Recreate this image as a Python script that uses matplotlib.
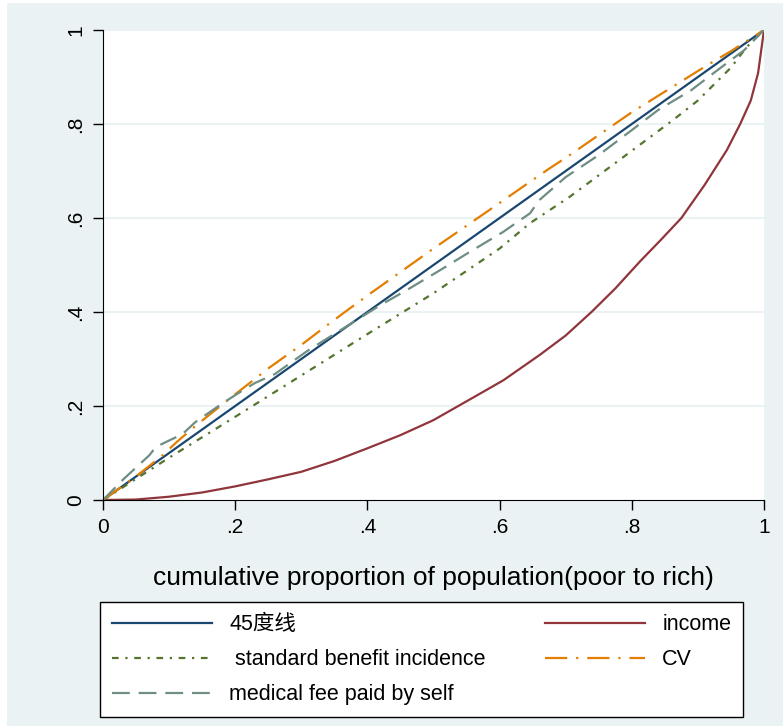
import matplotlib
matplotlib.use("Agg")
from matplotlib import pyplot as plt
from matplotlib.patches import Rectangle

plt.rcParams['font.family'] = ['Liberation Sans', 'Noto Sans CJK SC', 'DejaVu Sans']

# Lorenz / concentration curves
diag_x = [0, 1]
diag_y = [0, 1]

income_x = [0, .05, .1, .15, .2, .25, .3, .35, .4, .45, .5, .54, .575, .606, .661, .7, .739,
            .775, .812, .845, .875, .91, .944, .964, .98, .991, 1]
income_y = [0, .001, .007, .016, .029, .044, .060, .083, .110, .138, .170, .202, .230, .255, .309,
            .35, .40, .45, .507, .555, .60, .67, .745, .80, .85, .908, 1]

sbi_x = [0, .1, .2, .3, .4, .5, .6, .646, .706, .8, .862, .9, .95, .974, 1]
sbi_y = [0, .09, .177, .265, .353, .44, .535, .589, .645, .743, .808, .85, .92, .964, 1]

cv_x = [0, .05, .09, .112, .142, .2, .222, .25, .3, .343, .366, .4, .5, .6, .646, .676, .7, .8, .914, .95, 1]
cv_y = [0, .05, .095, .124, .16, .225, .249, .28, .33, .376, .40, .435, .535, .632, .677, .706, .728, .825, .925, .955, 1]

fee_x = [0, .03, .07, .08, .12, .14, .18, .21, .23, .26, .31, .36, .42, .46, .51, .555, .605, .646, .66,
         .70, .75, .80, .84, .89, .93, .97, 1]
fee_y = [0, .043, .095, .113, .14, .166, .205, .232, .249, .268, .318, .362, .415, .447, .489, .528, .570,
         .61, .638, .687, .734, .787, .83, .872, .915, .957, 1]

ticks = [0, .2, .4, .6, .8, 1]
tick_labels = ['0', '.2', '.4', '.6', '.8', '1']

bg = '#EAF2F3'
fig = plt.figure(figsize=(7.83, 7.26), dpi=100, facecolor='white')
fig.patches.append(Rectangle((7/783, 0), 1, 1 - 3/726, transform=fig.transFigure,
                             facecolor=bg, edgecolor='none', zorder=-10))
ax = fig.add_axes([103/783, 1 - 500/726, 661/783, 470/726])
ax.set_facecolor('white')

lw = 1.6
l1, = ax.plot(diag_x, diag_y, color='#1A476F', lw=lw, label='45度线')
l2, = ax.plot(income_x, income_y, color='#90353B', lw=lw, label='income')
l3, = ax.plot(sbi_x, sbi_y, color='#55752F', lw=lw, ls=(0, (3, 3, 1, 3)),
              label=' standard benefit incidence')
l4, = ax.plot(cv_x, cv_y, color='#E37E00', lw=lw, ls=(0, (10, 4, 1, 4)), label='CV')
l5, = ax.plot(fee_x, fee_y, color='#6E8E84', lw=lw, ls=(0, (8, 4)),
              label='medical fee paid by self')

ax.set_xlim(0, 1)
ax.set_ylim(0, 1)
ax.set_xticks(ticks)
ax.set_xticklabels(tick_labels)
ax.set_yticks(ticks)
ax.set_yticklabels(tick_labels, rotation=90, va='center')
for y in ticks[1:]:
    ax.axhline(y, color=bg, lw=1.5, zorder=0)
ax.spines['top'].set_visible(False)
ax.spines['right'].set_visible(False)
ax.tick_params(direction='out', length=7, width=1, labelsize=15, pad=6)
ax.set_xlabel('cumulative proportion of population(poor to rich)', fontsize=19, labelpad=21)

leg = fig.legend([l1, l3, l5, l2, l4],
                 [l1.get_label(), l3.get_label(), l5.get_label(), l2.get_label(), l4.get_label()],
                 loc='lower left', ncol=2, mode='expand',
                 bbox_to_anchor=(100/783, 9/726, 643/783, 116/726),
                 fontsize=15.5, handlelength=4.65, handletextpad=0.8, labelspacing=0.65,
                 borderpad=0.55, fancybox=False, edgecolor='black', framealpha=1, borderaxespad=0)
leg.get_frame().set_linewidth(1)

plt.savefig('out.png', dpi=100, facecolor=fig.get_facecolor())
